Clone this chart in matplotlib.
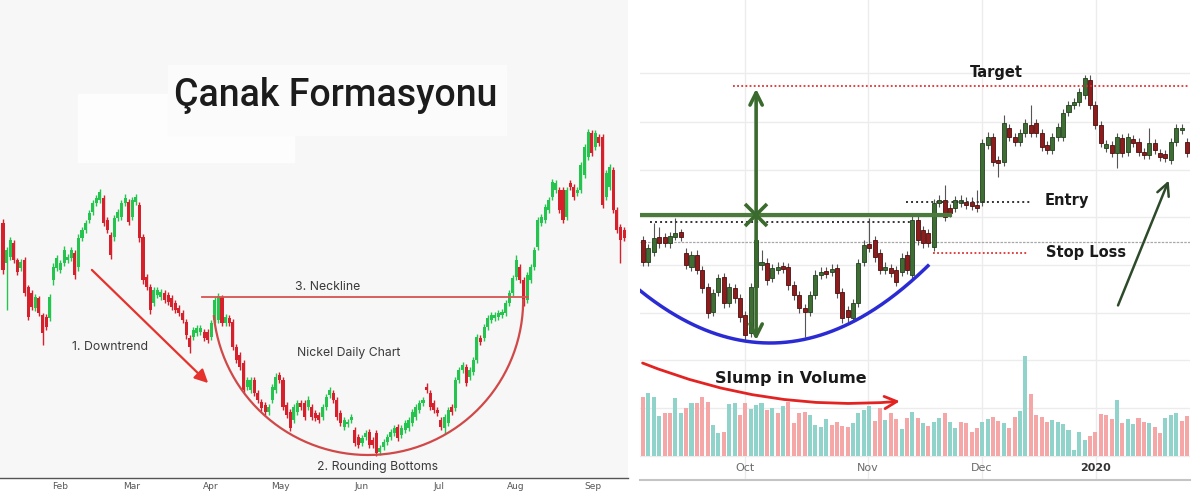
import numpy as np
import matplotlib.pyplot as plt
from matplotlib.patches import FancyArrowPatch, Rectangle

# ---------------- left chart: nickel daily candles (price units, arbitrary) -------------
left_open = [277, 237, 243, 257, 240, 232, 240, 213, 207, 192, 202, 185, 183, 182, 220, 232, 230, 237, 240, 242,
             247, 233, 262, 270, 280, 288, 297, 300, 302, 280, 265, 263, 282, 283, 297, 298, 283, 298, 295, 263,
             223, 213, 197, 205, 203, 207, 205, 202, 197, 192, 187, 178, 162, 163, 167, 168, 168, 168, 163, 180,
             180, 203, 177, 182, 178, 153, 145, 137, 113, 110, 120, 107, 98, 95, 88, 100, 110, 125, 120, 95,
             88, 80, 88, 97, 97, 93, 93, 87, 85, 83, 93, 105, 107, 100, 87, 73, 76, 80, 70, 63,
             57, 63, 68, 60, 67, 48, 53, 58, 63, 67, 73, 65, 70, 72, 77, 83, 90, 97, 113, 107,
             97, 90, 80, 72, 77, 93, 92, 120, 130, 133, 123, 128, 140, 162, 162, 173, 180, 182, 183, 185,
             187, 197, 207, 223, 233, 220, 200, 220, 233, 253, 277, 280, 290, 303, 310, 310, 310, 283, 317, 313,
             307, 310, 325, 343, 367, 353, 363, 363, 303, 313, 330, 290, 273, 270]
left_close = [230, 250, 260, 240, 228, 238, 207, 183, 193, 203, 187, 167, 173, 203, 233, 242, 237, 250, 243, 250,
              225, 262, 270, 277, 287, 297, 302, 308, 277, 270, 245, 282, 288, 297, 302, 278, 300, 303, 262, 220,
              213, 190, 210, 210, 208, 200, 198, 193, 190, 187, 180, 165, 153, 170, 172, 172, 162, 160, 177, 200,
              204, 177, 183, 177, 153, 140, 133, 110, 120, 120, 107, 100, 92, 88, 93, 113, 123, 120, 93, 85,
              72, 93, 97, 93, 83, 100, 83, 82, 80, 93, 103, 110, 100, 83, 77, 80, 78, 83, 57, 55,
              62, 67, 55, 55, 47, 52, 58, 63, 68, 72, 62, 72, 77, 80, 88, 93, 97, 100, 110, 93,
              90, 87, 73, 83, 90, 88, 120, 130, 135, 117, 130, 140, 163, 158, 173, 182, 185, 185, 187, 188,
              197, 207, 222, 240, 220, 197, 225, 233, 250, 280, 283, 293, 300, 318, 317, 290, 280, 310, 313, 303,
              310, 335, 353, 368, 347, 367, 357, 295, 327, 333, 290, 270, 260, 262]
left_high = [281, 253, 263, 260, 242, 241, 243, 215, 210, 206, 204, 187, 186, 206, 237, 245, 240, 254, 246, 253,
             250, 266, 273, 280, 290, 300, 305, 311, 305, 283, 268, 285, 291, 300, 306, 301, 303, 306, 298, 266,
             226, 216, 213, 213, 211, 210, 208, 205, 200, 195, 190, 181, 165, 173, 175, 175, 171, 171, 180, 203,
             207, 205, 186, 185, 181, 156, 148, 140, 123, 123, 123, 110, 101, 98, 96, 116, 127, 128, 123, 98,
             91, 96, 100, 100, 100, 104, 96, 90, 88, 96, 106, 113, 110, 103, 90, 83, 81, 86, 73, 66,
             65, 70, 71, 63, 70, 55, 61, 66, 71, 75, 76, 75, 80, 83, 91, 96, 100, 103, 117, 110,
             100, 93, 83, 86, 93, 96, 123, 133, 138, 136, 133, 143, 166, 165, 176, 185, 188, 188, 190, 191,
             200, 210, 225, 245, 236, 223, 228, 236, 253, 283, 286, 296, 303, 321, 320, 313, 313, 313, 320, 316,
             313, 338, 356, 371, 370, 370, 366, 366, 330, 336, 333, 293, 276, 273]
left_low = [226, 190, 240, 237, 225, 229, 204, 180, 190, 189, 184, 155, 170, 179, 215, 229, 227, 234, 237, 239,
            221, 229, 259, 267, 277, 285, 294, 297, 274, 267, 241, 259, 279, 280, 294, 275, 280, 295, 258, 216,
            210, 186, 194, 202, 200, 197, 195, 190, 187, 184, 177, 161, 147, 160, 164, 165, 159, 157, 160, 177,
            177, 174, 174, 174, 150, 137, 130, 107, 110, 107, 104, 97, 89, 85, 85, 97, 107, 117, 90, 82,
            69, 77, 85, 90, 80, 90, 80, 79, 77, 80, 90, 102, 97, 80, 74, 70, 73, 77, 54, 52,
            54, 60, 52, 52, 44, 45, 50, 55, 60, 64, 59, 62, 67, 69, 74, 80, 87, 94, 107, 90,
            87, 84, 70, 66, 74, 85, 89, 117, 127, 114, 120, 125, 137, 155, 159, 170, 177, 179, 180, 182,
            184, 194, 204, 220, 217, 194, 197, 217, 230, 250, 274, 277, 287, 300, 307, 287, 277, 280, 310, 300,
            304, 307, 322, 340, 344, 350, 354, 292, 300, 310, 287, 267, 237, 259]
left_months = ["Feb", "Mar", "Apr", "May", "Jun", "Jul", "Aug", "Sep"]
left_month_pos = [15.9, 35.7, 57.9, 77.2, 100.0, 121.4, 142.9, 164.3]
neckline_level = 203

# ---------------- right chart: cup pattern candles + volume -------------------------------
right_open = [260, 238, 248, 263, 263, 257, 263, 268, 247, 233, 245, 230, 213, 188, 208, 223, 197, 212, 202, 185,
              167, 213, 235, 237, 222, 230, 234, 233, 215, 205, 192, 188, 205, 225, 229, 228, 232, 208, 190, 182,
              197, 238, 256, 260, 247, 230, 232, 230, 228, 245, 225, 280, 270, 267, 253, 297, 300, 292, 292, 297,
              298, 298, 295, 298, 355, 363, 340, 338, 372, 363, 358, 367, 375, 377, 367, 355, 350, 363, 363, 388,
              395, 398, 405, 420, 395, 375, 352, 355, 347, 362, 348, 361, 358, 348, 345, 357, 347, 346, 340, 358,
              370, 358]
right_close = [238, 252, 262, 257, 257, 264, 267, 263, 235, 245, 230, 212, 187, 207, 222, 197, 213, 202, 183, 165,
               213, 260, 238, 220, 232, 233, 231, 215, 205, 192, 188, 205, 225, 228, 226, 231, 207, 182, 183, 197,
               237, 255, 252, 243, 230, 233, 227, 218, 242, 230, 280, 260, 257, 257, 297, 300, 283, 287, 300, 300,
               295, 294, 292, 357, 363, 338, 337, 377, 363, 358, 367, 377, 367, 367, 353, 350, 363, 373, 387, 395,
               398, 408, 422, 395, 375, 357, 356, 347, 363, 347, 363, 357, 348, 345, 357, 350, 343, 342, 358, 372,
               372, 347]
right_high = [264, 256, 277, 273, 267, 268, 282, 271, 252, 249, 250, 234, 217, 211, 226, 227, 217, 216, 206, 189,
              217, 264, 250, 242, 236, 238, 238, 237, 219, 209, 196, 209, 230, 233, 233, 236, 236, 212, 194, 201,
              241, 260, 282, 264, 251, 238, 236, 234, 247, 249, 285, 284, 274, 271, 301, 305, 315, 296, 304, 305,
              303, 303, 310, 361, 368, 367, 344, 385, 376, 367, 371, 381, 395, 381, 371, 359, 367, 377, 391, 399,
              402, 412, 425, 425, 399, 379, 360, 359, 367, 366, 367, 365, 362, 352, 372, 361, 351, 350, 362, 376,
              376, 362]
right_low = [234, 234, 244, 252, 253, 252, 260, 259, 231, 229, 226, 207, 182, 184, 204, 192, 193, 197, 178, 160,
             163, 209, 230, 215, 218, 226, 227, 210, 200, 187, 163, 184, 201, 221, 222, 224, 202, 177, 178, 178,
             193, 234, 248, 238, 226, 226, 223, 214, 224, 226, 220, 255, 252, 253, 249, 293, 279, 283, 288, 293,
             291, 290, 288, 294, 351, 334, 323, 334, 359, 354, 354, 363, 363, 363, 349, 346, 346, 359, 359, 384,
             391, 394, 401, 391, 371, 353, 348, 343, 332, 343, 344, 353, 344, 341, 341, 346, 339, 338, 336, 354,
             366, 343]
right_volume = [59, 63, 59, 40, 43, 43, 58, 43, 48, 53, 53, 59, 54, 31, 23, 24, 52, 53, 41, 53,
                47, 51, 53, 46, 48, 43, 50, 54, 33, 43, 44, 41, 31, 29, 37, 31, 34, 30, 29, 33,
                43, 46, 50, 35, 48, 36, 43, 37, 27, 38, 44, 38, 33, 30, 34, 38, 43, 34, 28, 34,
                33, 24, 28, 34, 37, 39, 35, 33, 28, 39, 45, 100, 62, 41, 39, 34, 36, 34, 32, 26,
                6, 24, 16, 20, 24, 42, 41, 37, 56, 33, 37, 32, 38, 34, 33, 29, 23, 38, 41, 43,
                35, 40]
right_volume_up = [0, 1, 1, 1, 0, 0, 1, 1, 0, 1, 0, 0, 0, 1, 1, 0, 1, 1, 0, 0,
                   1, 1, 1, 0, 1, 0, 1, 0, 0, 0, 0, 1, 1, 1, 1, 0, 0, 0, 0, 1,
                   1, 1, 1, 0, 0, 1, 0, 0, 1, 0, 1, 0, 1, 0, 1, 1, 0, 1, 1, 0,
                   0, 0, 0, 1, 1, 0, 0, 1, 0, 0, 1, 1, 0, 0, 0, 0, 1, 1, 1, 1,
                   1, 1, 1, 0, 0, 0, 0, 0, 1, 0, 1, 1, 0, 0, 1, 0, 0, 1, 1, 1,
                   0, 0]
right_months = ["Oct", "Nov", "Dec", "2020"]
right_month_pos = [18.9, 41.8, 62.9, 84.1]
grid_levels = [44, 92, 140, 187, 235, 283, 330, 378, 427]
target_level = 414
entry_level = 298
breakout_level = 285
rim_level = 278
stop_level = 247
support_level = 258
cup_low = 157

fig = plt.figure(figsize=(12, 5.04), dpi=100)
fig.patch.set_facecolor("white")

# ======================= LEFT PANEL =======================
axL = fig.add_axes([0, 26 / 504, 628 / 1200, 478 / 504])
axL.set_facecolor("#f7f7f7")
axL.set_xlim(-0.84, 174.1)
axL.set_ylim(22, 500)
axL.add_patch(Rectangle((21, 338), 60, 68, color="#fdfdfd", zorder=0))
axL.add_patch(Rectangle((46, 365), 94, 70, color="#fbfbfb", zorder=0))

lo = np.array(left_open)
lc = np.array(left_close)
xl = np.arange(len(lo))
lcol = np.where(lc >= lo, "#25c44f", "#d6202b")
axL.vlines(xl, left_low, left_high, colors=lcol, lw=1.0, zorder=2)
axL.bar(xl, np.maximum(np.abs(lc - lo), 1.5), bottom=np.minimum(lo, lc), width=0.85, color=lcol, zorder=3)

for s in ["top", "right", "left"]:
    axL.spines[s].set_visible(False)
axL.spines["bottom"].set_color("#555555")
axL.spines["bottom"].set_linewidth(1.0)
axL.set_yticks([])
axL.set_xticks(left_month_pos)
axL.set_xticklabels(left_months, fontsize=6.5, color="#555555")
axL.tick_params(axis="x", length=0, pad=3)

ann_font = dict(family="Inter", fontsize=8.8, color="#3a3a3a")
axL.text(92.8, 405, "Çanak Formasyonu", ha="center", va="center", family="Roboto",
         fontsize=27, fontweight="medium", color="#1c1c1c", zorder=5)
axL.plot([55.4, 146.2], [neckline_level, neckline_level], color="#d9544f", lw=1.3, zorder=4)
axL.text(90.3, 213, "3. Neckline", ha="center", va="center", **ann_font)
axL.text(96.4, 147, "Nickel Daily Chart", ha="center", va="center", **ann_font)
axL.text(29.8, 153, "1. Downtrend", ha="center", va="center", **ann_font)
axL.text(104.2, 33, "2. Rounding Bottoms", ha="center", va="center", **ann_font)

t = np.radians(np.linspace(186, 360, 200))
axL.plot(101.7 + 43.2 * np.cos(t), 200 + 155 * np.sin(t), color="#d04848", lw=1.6, zorder=4)
axL.annotate("", xy=(57.7, 115), xytext=(24.2, 232),
             arrowprops=dict(arrowstyle="-|>", color="#e5322d", lw=1.6, mutation_scale=20))

# ======================= RIGHT PANEL =======================
axR = fig.add_axes([640 / 1200, 24 / 504, 550 / 1200, 480 / 504])
axR.set_facecolor("white")
axR.set_xlim(-0.56, 101.56)
axR.set_ylim(20, 500)
for s in ["top", "right", "left"]:
    axR.spines[s].set_visible(False)
axR.spines["bottom"].set_color("#c4c4c4")
axR.spines["bottom"].set_linewidth(1.5)
axR.set_yticks(grid_levels)
axR.set_yticklabels([])
axR.set_xticks(right_month_pos)
axR.set_xticklabels([])
axR.tick_params(length=0)
axR.grid(True, color="#ececec", lw=1)
axR.set_axisbelow(True)
for pos, lab in zip(right_month_pos, right_months):
    bold = lab == "2020"
    axR.text(pos, 32, lab, ha="center", va="center", fontsize=8,
             color="#333333" if bold else "#6b6b6b", fontweight="bold" if bold else "normal")

ro = np.array(right_open)
rc = np.array(right_close)
xr = np.arange(len(ro))
rcol = np.where(rc >= ro, "#3f6e35", "#8e1c1c")
redge = np.where(rc >= ro, "#22401d", "#4e0e0e")
axR.vlines(xr, right_low, right_high, colors="#555555", lw=0.8, zorder=2)
axR.bar(xr, np.maximum(np.abs(rc - ro), 1.5), bottom=np.minimum(ro, rc), width=0.75,
        color=rcol, edgecolor=redge, lw=0.6, zorder=3)

# pattern annotations
dots = (0, (1, 1.3))
axR.plot([16.7, 101.2], [target_level, target_level], color="#e03030", lw=1.3, ls=dots, zorder=4)
axR.plot([-0.56, 101.56], [support_level, support_level], color="#a8a8a8", lw=0.9, ls=(0, (2, 1)), zorder=1)
axR.plot([-0.56, 57.0], [breakout_level, breakout_level], color="#4b7b3c", lw=3, zorder=4)
axR.plot([1.3, 49.9], [rim_level, rim_level], color="#333333", lw=1.4, ls=(0, (1, 1.6)), zorder=4)
axR.plot([48.8, 71.9], [entry_level, entry_level], color="#333333", lw=1.4, ls=(0, (1, 1.6)), zorder=4)
axR.plot([53.8, 71.3], [stop_level, stop_level], color="#e03030", lw=1.3, ls=dots, zorder=4)

bold_font = dict(family="DejaVu Sans", fontsize=10.5, fontweight="bold", color="#1a1a1a")
axR.text(65.7, 427, "Target", ha="center", va="center", **bold_font)
axR.text(78.7, 299, "Entry", ha="center", va="center", **bold_font)
axR.text(82.2, 247, "Stop Loss", ha="center", va="center", **bold_font)

axR.add_patch(FancyArrowPatch((21.0, cup_low), (21.0, target_level), arrowstyle="<->",
                              mutation_scale=22, lw=2.6, color="#3b6a2e", zorder=5))
axR.plot([21.0], [breakout_level], marker="x", ms=16, mew=2.6, color="#3b6a2e", zorder=5)

xi = np.linspace(-0.56, 52.9, 200)
axR.plot(xi, cup_low + 0.0899 * (xi - 23.6) ** 2, color="#2b2bd4", lw=2.5, zorder=4)

axR.add_patch(FancyArrowPatch((88.0, 192), (97.8, 322), arrowstyle="->", mutation_scale=22,
                              lw=1.8, color="#2d4a2a", zorder=5))

# volume overlay
axV = axR.twinx()
axV.set_ylim(-24, 456)
axV.set_yticks([])
for s in axV.spines.values():
    s.set_visible(False)
vcol = ["#8fd3ca" if u else "#f5a7a7" for u in right_volume_up]
axV.bar(xr, right_volume, width=0.75, color=vcol, zorder=2)
axV.add_patch(FancyArrowPatch((-0.56, 94), (48.2, 55), connectionstyle="arc3,rad=0.12",
                              arrowstyle="->", mutation_scale=22, lw=2, color="#e32222", zorder=5))
axV.text(27.5, 78, "Slump in Volume", ha="center", va="center", family="DejaVu Sans",
         fontsize=11.5, fontweight="bold", color="#1a1a1a")

fig.savefig("out.png", dpi=100, facecolor="white")
